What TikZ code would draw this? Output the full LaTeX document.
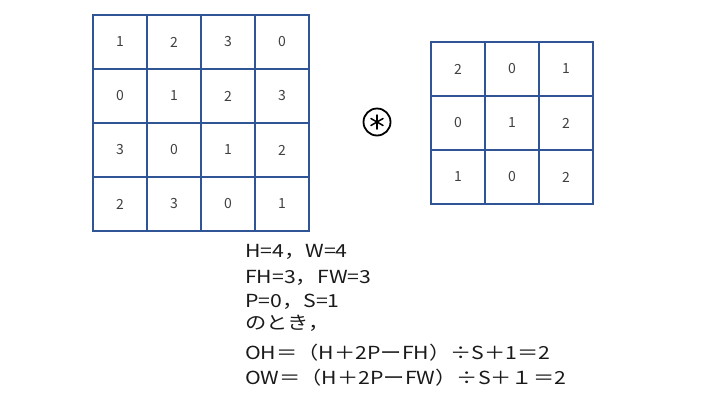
\documentclass[tikz,border=0pt]{standalone}
\usepackage{fontspec}
\setmainfont{Noto Sans CJK JP}
\newfontfamily\eqfont[FakeStretch=1.18]{Noto Sans CJK JP}
\definecolor{gridblue}{HTML}{2F5597}
\definecolor{numgray}{HTML}{404040}
\definecolor{eqtext}{HTML}{1A1A1A}
\begin{document}
\begin{tikzpicture}[x=1pt,y=-1pt,
  cell/.style={draw=gridblue, line width=1.2pt, minimum size=54pt, inner sep=0pt,
    font=\fontsize{14}{14}\selectfont, text=numgray},
  eq/.style={anchor=base west, inner sep=0pt, font=\eqfont\fontsize{18}{20}\selectfont, text=eqtext},
  spoke/.style={line width=1.5pt, line cap=round}]
\useasboundingbox (0,0) rectangle (720,405);
% input 4x4
\foreach \r/\row in {0/{1,2,3,0},1/{0,1,2,3},2/{3,0,1,2},3/{2,3,0,1}} {
  \foreach \v [count=\c from 0] in \row {
    \node[cell] (a\r\c) at (120+54*\c, 42+54*\r) {\v};
  }
}
% filter 3x3
\foreach \r/\row in {0/{2,0,1},1/{0,1,2},2/{1,0,2}} {
  \foreach \v [count=\c from 0] in \row {
    \node[cell] (f\r\c) at (458+54*\c, 69+54*\r) {\v};
  }
}
% convolution operator
\node[circle, draw=black, line width=1.8pt, minimum size=27pt, inner sep=0pt] (op) at (377,122) {};
\foreach \a in {90,30,-30,-90,150,210}
  \draw[spoke] (op.center) -- ++(\a:7pt);
% equations
\node[eq] (l1) at (245,257) {H=4，W=4};
\node[eq] (l2) at (245,283) {FH=3，FW=3};
\node[eq] (l3) at (245,307) {P=0，S=1};
\node[eq] (l4) at (245,329) {のとき，};
\node[eq] (l5) at (245,359) {OH＝（H＋2PーFH）÷S＋1＝2};
\node[eq] (l6) at (245,384) {OW＝（H＋2PーFW）÷S＋１＝2};
\end{tikzpicture}
\end{document}
